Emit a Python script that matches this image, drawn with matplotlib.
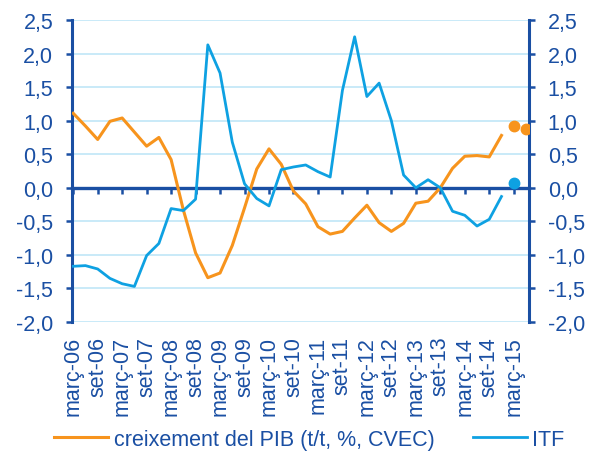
import matplotlib
matplotlib.use('Agg')
import matplotlib.pyplot as plt
from matplotlib.ticker import FuncFormatter

plt.rcParams['font.family'] = ['Liberation Sans', 'DejaVu Sans']

# Colours
DARK_BLUE = '#1A4FA3'
ORANGE = '#F7941D'
LIGHT_BLUE = '#0EA1E2'
GRID = '#C9EAF8'

# Quarterly data, març-06 .. des-14 (36 quarters)
pib = [1.11, 0.92, 0.72, 0.99, 1.04, 0.83, 0.62, 0.75, 0.42, -0.33,
       -0.97, -1.34, -1.27, -0.86, -0.30, 0.28, 0.58, 0.35, -0.05, -0.24,
       -0.58, -0.69, -0.65, -0.45, -0.26, -0.52, -0.65, -0.53, -0.23, -0.20,
       0.00, 0.29, 0.47, 0.48, 0.46, 0.78]
itf = [-1.17, -1.16, -1.21, -1.35, -1.43, -1.47, -1.01, -0.83, -0.31, -0.34,
       -0.17, 2.13, 1.71, 0.68, 0.06, -0.16, -0.27, 0.27, 0.31, 0.34,
       0.24, 0.16, 1.45, 2.25, 1.36, 1.56, 1.00, 0.19, 0.00, 0.12,
       0.00, -0.35, -0.41, -0.57, -0.47, -0.13]
# forecasts (points): març-15 and jun-15
pib_fc = [0.92, 0.87]
itf_fc = [0.07]

tick_labels = ['març-06', 'set-06', 'març-07', 'set-07', 'març-08', 'set-08',
               'març-09', 'set-09', 'març-10', 'set-10', 'març-11', 'set-11',
               'març-12', 'set-12', 'març-13', 'set-13', 'març-14', 'set-14',
               'març-15']

x = list(range(len(pib)))
x_pib_fc = list(range(len(pib), len(pib) + len(pib_fc)))
x_itf_fc = list(range(len(itf), len(itf) + len(itf_fc)))
tick_pos = list(range(0, 2 * len(tick_labels), 2))

FS = 15.5

fig = plt.figure(figsize=(5.94, 4.56), dpi=100)
ax = fig.add_axes([0.1212, 0.2917, 0.7694, 0.6622])

ax.set_ylim(-2.0, 2.5)
ax.set_xlim(-0.1, 37.25)
yticks = [-2.0 + 0.5 * k for k in range(10)]
ax.set_yticks(yticks)
ax.yaxis.set_major_formatter(FuncFormatter(lambda v, p: f'{v:.1f}'.replace('.', ',')))
ax.grid(axis='y', color=GRID, linewidth=1.4)
ax.set_axisbelow(True)

ax.plot(x, pib, color=ORANGE, linewidth=2.2, label='creixement del PIB (t/t, %, CVEC)', zorder=3)
ax.plot(x, itf, color=LIGHT_BLUE, linewidth=2.0, label='ITF', zorder=3)
ax.plot(x_pib_fc, pib_fc, 'o', color=ORANGE, markersize=7.5, zorder=4)
ax.plot(x_itf_fc, itf_fc, 'o', color=LIGHT_BLUE, markersize=7.5, zorder=4)

for side in ['top', 'bottom']:
    ax.spines[side].set_visible(False)
for side in ['left', 'right']:
    ax.spines[side].set_color(DARK_BLUE)
    ax.spines[side].set_linewidth(2.2)

ax.tick_params(axis='y', left=True, right=True, labelleft=True, labelright=True,
               direction='out', length=4.5, width=1.8, color=DARK_BLUE,
               labelcolor=DARK_BLUE, labelsize=FS, pad=9)

ax.set_xticks(tick_pos)
ax.set_xticklabels(tick_labels, rotation=90)
ax.tick_params(axis='x', length=0, pad=10, labelsize=FS, labelcolor=DARK_BLUE)

# zero line with small ticks (above grid, below the series)
zero_ax = ax.secondary_xaxis(2.0 / 4.5)
zero_ax.set_zorder(2.5)
zero_ax.set_xticks(tick_pos)
zero_ax.set_xticklabels([])
zero_ax.spines['bottom'].set_color(DARK_BLUE)
zero_ax.spines['bottom'].set_linewidth(2.4)
zero_ax.tick_params(axis='x', direction='out', length=4, width=1.8, color=DARK_BLUE)

fig.legend(loc='center', bbox_to_anchor=(0.521, 0.035), ncol=2, frameon=False,
           fontsize=FS, labelcolor=DARK_BLUE, handlelength=2.5, handletextpad=0.25,
           columnspacing=1.8, borderaxespad=0)

fig.savefig('out.png', dpi=100)
